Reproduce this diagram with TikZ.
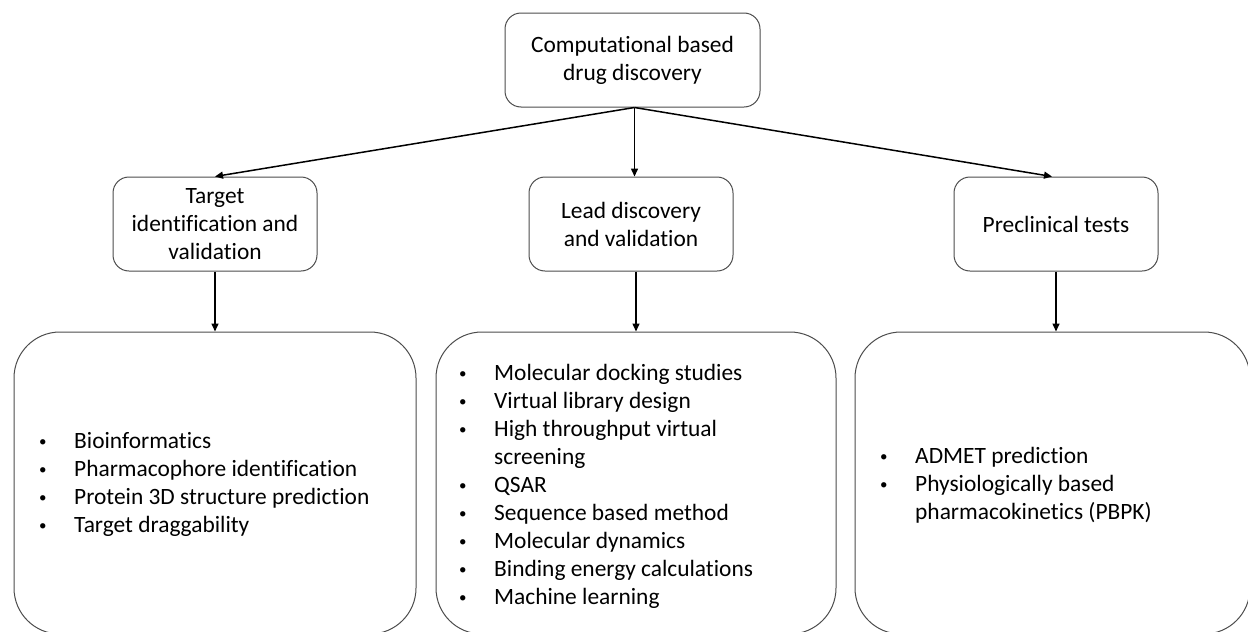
\documentclass[tikz,border=0pt]{standalone}
\usepackage{fontspec}
\setmainfont{Carlito}[Ligatures=NoCommon]
\usetikzlibrary{arrows.meta}
\newcommand{\blt}{\raisebox{1.5pt}{\fontsize{15}{15}\selectfont\textbullet}}
\begin{document}
\begin{tikzpicture}[x=1pt,y=-1pt,
  txt/.style={font={\fontsize{23.4}{28}\selectfont}},
  headbox/.style={draw=black!70,line width=1pt,rounded corners=16pt,
    minimum width=204pt,minimum height=94pt,align=center,inner sep=0pt,txt},
  listbox/.style={draw=black!70,line width=1pt,rounded corners=46pt,inner sep=0pt},
  listtxt/.style={anchor=base west,inner sep=0pt,txt},
  conn/.style={line width=1.5pt,-{Triangle[length=8pt,width=7pt]}}
]
\useasboundingbox (0,0) rectangle (1248,632);
\begin{scope}
\clip (0,0) rectangle (1248,632);
% top
\node[headbox,minimum width=255pt] (top) at (632.5,60) {Computational based\\drug discovery};
% second row
\node[headbox] (target) at (215,224) {Target\\identification and\\validation};
\node[headbox] (lead) at (631,224) {Lead discovery\\and validation};
\node[headbox] (pre) at (1056,224) {Preclinical tests};
% bottom boxes
\node[listbox,minimum width=402pt,minimum height=302pt] (lbox) at (215,483) {};
\node[listbox,minimum width=400pt,minimum height=302pt] (mbox) at (636,483) {};
\node[listbox,minimum width=395pt,minimum height=302pt] (rbox) at (1052.5,483) {};
% lists
\node[listtxt] (llist) at (39,448) {\begin{tabular}[t]{@{}p{35pt}@{}l@{}}
\blt & Bioinformatics\\
\blt & Pharmacophore identification\\
\blt & Protein 3D structure prediction\\
\blt & Target draggability
\end{tabular}};
\node[listtxt] (mlist) at (459,380) {\begin{tabular}[t]{@{}p{35pt}@{}l@{}}
\blt & Molecular docking studies\\
\blt & Virtual library design\\
\blt & High throughput virtual\\
 & screening\\
\blt & QSAR\\
\blt & Sequence based method\\
\blt & Molecular dynamics\\
\blt & Binding energy calculations\\
\blt & Machine learning
\end{tabular}};
\node[listtxt] (rlist) at (880,463) {\begin{tabular}[t]{@{}p{35pt}@{}l@{}}
\blt & ADMET prediction\\
\blt & Physiologically based\\
 & pharmacokinetics (PBPK)
\end{tabular}};
% connectors
\draw[conn] ([xshift=2pt]top.south) coordinate (fork) -- (target.north);
\draw[conn] (fork) -- (fork |- lead.north);
\draw[conn] (fork) -- ([xshift=-4pt]pre.north);
\draw[conn] (target.south) -- (lbox.north);
\draw[conn] (lead.south -| mbox.north) -- (mbox.north);
\draw[conn] (pre.south) -- (pre.south |- rbox.north);
\end{scope}
\end{tikzpicture}
\end{document}
